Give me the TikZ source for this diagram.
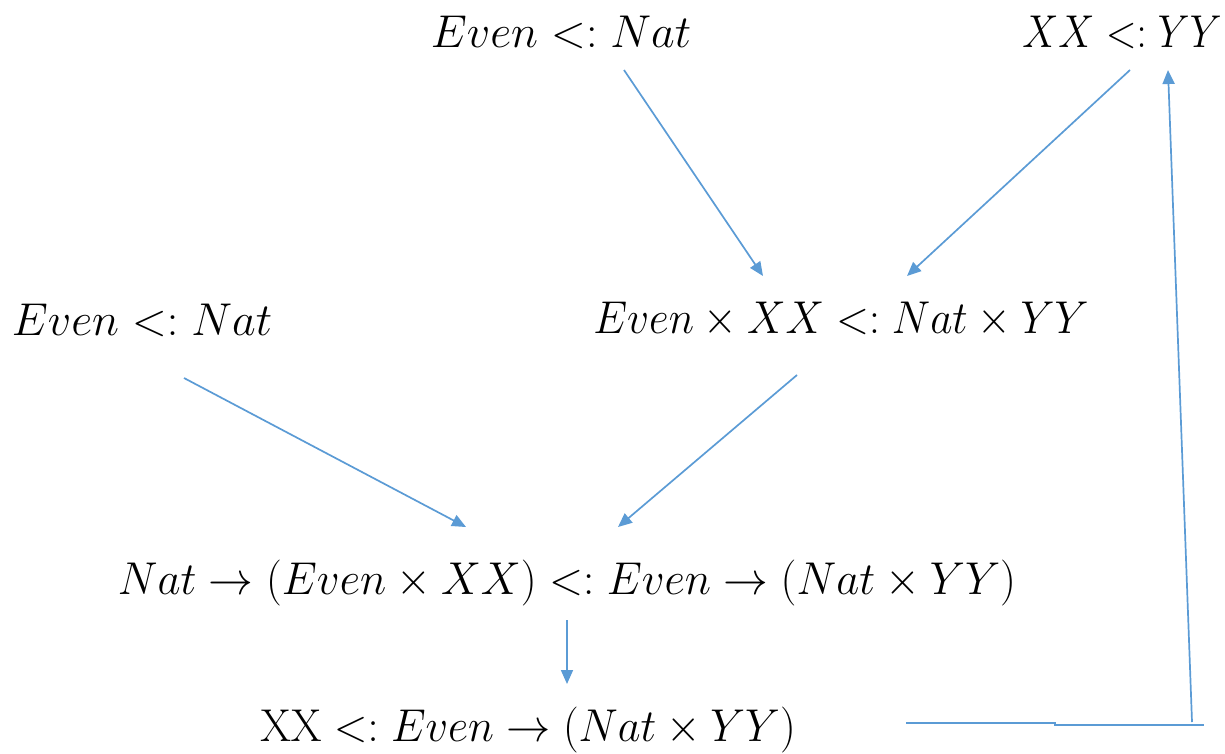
\RequirePackage{fix-cm}
\documentclass[tikz,border=0pt]{standalone}
\usetikzlibrary{arrows.meta}
\definecolor{lineblue}{HTML}{5B9BD5}
\begin{document}
\begin{tikzpicture}[x=1pt,y=-1pt,
  lbl/.style={inner sep=0pt,font=\fontsize{46}{50}\selectfont},
  conn/.style={draw=lineblue,line width=1.7pt},
  arr/.style={conn,-{Triangle[length=14pt,width=12pt]}}]
\useasboundingbox (0,0) rectangle (1225,753);
\node[lbl] (t1) at (561,32) {$Even <: Nat$};
\node[lbl] (t2) at (1122,32) {\scalebox{0.88}[1]{$XX <: YY$}};
\node[lbl] (m1) at (142,320) {$Even <: Nat$};
\node[lbl] (m2) at (841,320) {\scalebox{0.94}[1]{$Even \times XX <: Nat \times YY$}};
\node[lbl] (r3) at (567,583) {\scalebox{0.973}[1]{$Nat \to (Even \times XX) <: Even \to (Nat \times YY)$}};
\node[lbl] (b) at (528,730) {\scalebox{0.962}[1]{$\mathrm{XX} <: Even \to (Nat \times YY)$}};
\coordinate (t1s) at (624,70);
\coordinate (m2n1) at (763,276);
\coordinate (t2s) at (1130,70);
\coordinate (m2n2) at (907,276);
\coordinate (m1s) at (184,378);
\coordinate (r3n1) at (466,527);
\coordinate (m2s) at (797,375);
\coordinate (r3n2) at (618,527);
\coordinate (r3s) at (567,620);
\coordinate (bn) at (567,684);
\coordinate (f1) at (906,723);
\coordinate (f2) at (1055,723);
\coordinate (f3) at (1055,725);
\coordinate (f4) at (1204,725);
\coordinate (f5) at (1192,722);
\coordinate (t2n) at (1168,70);
\draw[arr] (t1s) -- (m2n1);
\draw[arr] (t2s) -- (m2n2);
\draw[arr] (m1s) -- (r3n1);
\draw[arr] (m2s) -- (r3n2);
\draw[arr] (r3s) -- (bn);
\draw[conn] (f1) -- (f2) -- (f3) -- (f4);
\draw[arr] (f5) -- (t2n);
\end{tikzpicture}
\end{document}
